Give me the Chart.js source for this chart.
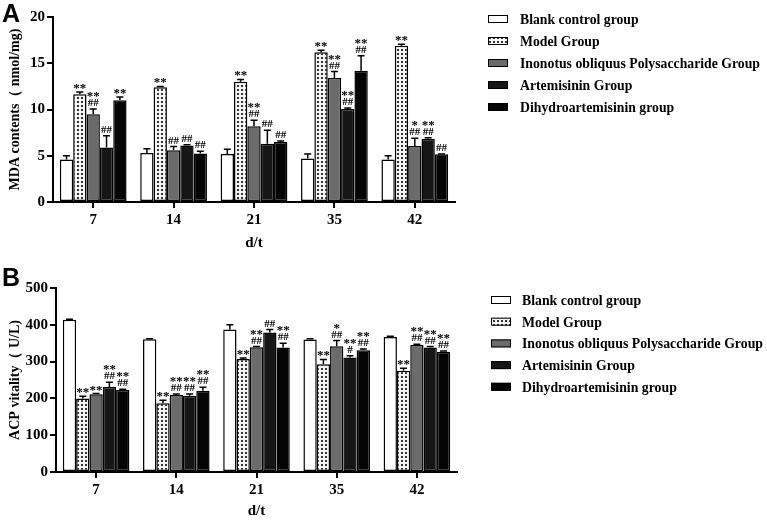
<!DOCTYPE html>
<html>
<head>
  <script src="https://cdnjs.cloudflare.com/ajax/libs/Chart.js/4.4.0/chart.umd.min.js"></script>
  <title>MDA and ACP</title>
  <style>
    body { margin: 0; background: #fff; }
    canvas { position: absolute; left: 0; }
    #chartA { top: 0; }
    #chartB { top: 255px; }
  </style>
</head>
<body>
  <canvas id="chartA" width="767" height="255"></canvas>
  <canvas id="chartB" width="767" height="265"></canvas>

  <script>
    // days on the x axis
    const days = ["7", "14", "21", "35", "42"];
    const groupNames = [
      "Blank control group",
      "Model Group",
      "Inonotus obliquus Polysaccharide Group",
      "Artemisinin Group",
      "Dihydroartemisinin group"
    ];

    // panel A: MDA contents (nmol/mg), mean and SD
    const mdaBlank = [4.6, 5.3, 5.2, 4.7, 4.6];
    const mdaModel = [11.65, 12.4, 13.0, 16.2, 16.9];
    const mdaIop = [9.5, 5.6, 8.2, 13.4, 6.05];
    const mdaArt = [5.9, 6.1, 6.3, 10.05, 6.85];
    const mdaDha = [11.0, 5.25, 6.5, 14.2, 5.15];
    const mdaBlankSd = [0.4, 0.45, 0.5, 0.5, 0.4];
    const mdaModelSd = [0.25, 0.1, 0.25, 0.2, 0.15];
    const mdaIopSd = [0.55, 0.4, 0.65, 0.7, 0.85];
    const mdaArtSd = [1.25, 0.1, 1.45, 0.1, 0.1];
    const mdaDhaSd = [0.35, 0.25, 0.1, 1.6, 0.05];
    const mdaBlankSig = ["", "", "", "", ""];
    const mdaModelSig = ["**", "**", "**", "**", "**"];
    const mdaIopSig = ["**\n##", "##", "**\n##", "**\n##", "*\n##"];
    const mdaArtSig = ["##", "##", "##", "**\n##", "**\n##"];
    const mdaDhaSig = ["**", "##", "##", "**\n##", "##"];
    const mdaTicks = [0, 5, 10, 15, 20];

    // panel B: ACP vitality (U/L), mean and SD
    const acpBlank = [414, 361, 387, 360, 367];
    const acpModel = [200, 187, 307, 293, 275];
    const acpIop = [211, 209, 339, 342, 345];
    const acpArt = [231, 207, 379, 311, 338];
    const acpDha = [223, 221, 338, 331, 327];
    const acpBlankSd = [1, 1, 13, 2, 2];
    const acpModelSd = [6, 8, 3, 13, 7];
    const acpIopSd = [2, 3, 2, 15, 2];
    const acpArtSd = [13, 5, 8, 5, 3];
    const acpDhaSd = [2, 9, 12, 3, 2];
    const acpBlankSig = ["", "", "", "", ""];
    const acpModelSig = ["**", "**", "**", "**", "**"];
    const acpIopSig = ["**", "**\n##", "**\n##", "*\n##", "**\n##"];
    const acpArtSig = ["**\n##", "**\n##", "##", "**\n#", "**\n##"];
    const acpDhaSig = ["**\n##", "**\n##", "**\n##", "**\n##", "**\n##"];
    const acpTicks = [0, 100, 200, 300, 400, 500];

    const serif = "'Liberation Serif', 'Times New Roman', serif";

    // dotted fill for the model group
    function dotPattern() {
      const c = document.createElement("canvas");
      c.width = 4;
      c.height = 4;
      const g = c.getContext("2d");
      g.fillStyle = "#f4f4f4";
      g.fillRect(0, 0, 4, 4);
      g.fillStyle = "#333";
      g.fillRect(1, 1, 2, 2);
      return g.createPattern(c, "repeat");
    }
    const dots = dotPattern();
    const fills = ["#ffffff", dots, "#6b6b6b", "#161616", "#050505"];

    // error caps and significance marks above each bar
    const errorPlugin = {
      id: "errorMarks",
      afterDatasetsDraw(chart) {
        const ctx = chart.ctx;
        const y = chart.scales.y;
        ctx.save();
        chart.data.datasets.forEach((ds, i) => {
          const meta = chart.getDatasetMeta(i);
          meta.data.forEach((bar, j) => {
            const top = y.getPixelForValue(ds.data[j] + ds.sd[j]);
            ctx.strokeStyle = "#000";
            ctx.lineWidth = 1.5;
            ctx.beginPath();
            ctx.moveTo(bar.x, bar.y);
            ctx.lineTo(bar.x, top);
            ctx.moveTo(bar.x - 3.5, top);
            ctx.lineTo(bar.x + 3.5, top);
            ctx.stroke();
            const lines = ds.sig[j] ? ds.sig[j].split("\n") : [];
            ctx.fillStyle = "#000";
            ctx.textAlign = "center";
            ctx.textBaseline = "alphabetic";
            lines.reverse().forEach((t, k) => {
              const star = t.indexOf("*") >= 0;
              ctx.font = "bold " + (star ? 13 : 11) + "px " + serif;
              ctx.fillText(t, bar.x, top - 3 - k * 9 + (star ? 3 : 0));
            });
          });
        });
        ctx.restore();
      }
    };

    // legend on the right and the panel letter
    const sidePlugin = {
      id: "side",
      afterDraw(chart, args, opts) {
        const ctx = chart.ctx;
        ctx.save();
        ctx.font = "bold 15px " + serif;
        const widest = Math.max(...groupNames.map(n => ctx.measureText(n).width));
        const squeeze = Math.min(1, opts.textWidth / widest);
        chart.data.datasets.forEach((ds, i) => {
          const cy = opts.legendY + i * opts.step;
          ctx.fillStyle = ds.backgroundColor;
          ctx.fillRect(opts.boxX, cy - 4, 20, 8);
          ctx.strokeStyle = "#000";
          ctx.lineWidth = 1;
          ctx.strokeRect(opts.boxX + 0.5, cy - 3.5, 19, 7);
          ctx.fillStyle = "#000";
          ctx.textAlign = "left";
          ctx.textBaseline = "middle";
          ctx.save();
          ctx.translate(opts.textX, cy + 1);
          ctx.scale(squeeze, 1);
          ctx.fillText(ds.label, 0, 0);
          ctx.restore();
        });
        ctx.font = "bold 25px 'Liberation Sans', Arial, sans-serif";
        ctx.textBaseline = "top";
        ctx.fillText(opts.letter, 2, opts.letterY);
        ctx.restore();
      }
    };

    function makeChart(id, series, sds, sigs, ticks, yTitle, box) {
      const datasets = series.map((vals, i) => ({
        label: groupNames[i],
        data: vals,
        sd: sds[i],
        sig: sigs[i],
        backgroundColor: fills[i],
        borderColor: "#000",
        borderWidth: 1.5,
        borderSkipped: false,
        categoryPercentage: 0.83,
        barPercentage: 1.0
      }));
      return new Chart(document.getElementById(id), {
        type: "bar",
        data: { labels: days, datasets: datasets },
        plugins: [errorPlugin, sidePlugin],
        options: {
          responsive: false,
          animation: false,
          devicePixelRatio: 1,
          layout: { padding: { left: 0, top: box.top, right: box.right, bottom: 0 } },
          plugins: {
            legend: { display: false },
            tooltip: { enabled: false },
            side: box.side
          },
          scales: {
            x: {
              afterFit: s => { s.height = box.xHeight; },
              grid: { offset: false, drawOnChartArea: false, tickLength: 6, color: "#000", lineWidth: 2 },
              border: { color: "#000", width: 2 },
              ticks: { color: "#000", padding: 3, font: { family: serif, size: 15, weight: "bold" } },
              title: {
                display: true, text: "d/t", color: "#000",
                padding: { top: 0, bottom: box.titlePad },
                font: { family: serif, size: 15, weight: "bold" }
              }
            },
            y: {
              min: ticks[0],
              max: ticks[ticks.length - 1],
              afterFit: s => { s.width = box.yWidth; },
              afterBuildTicks: s => { s.ticks = ticks.map(v => ({ value: v })); },
              grid: { drawOnChartArea: false, tickLength: 6, color: "#000", lineWidth: 2 },
              border: { color: "#000", width: 2 },
              ticks: { color: "#000", padding: 2, font: { family: serif, size: 15, weight: "bold" } },
              title: {
                display: true, text: yTitle, color: "#000",
                padding: { top: 7, bottom: 0 },
                font: { family: serif, size: 14, weight: "bold" }
              }
            }
          }
        }
      });
    }

    makeChart("chartA",
      [mdaBlank, mdaModel, mdaIop, mdaArt, mdaDha],
      [mdaBlankSd, mdaModelSd, mdaIopSd, mdaArtSd, mdaDhaSd],
      [mdaBlankSig, mdaModelSig, mdaIopSig, mdaArtSig, mdaDhaSig],
      mdaTicks, "MDA contents（ nmol/mg)",
      { top: 17, right: 312, yWidth: 53, xHeight: 53, titlePad: 3,
        side: { letter: "A", letterY: 3, boxX: 488, textX: 520, textWidth: 240, legendY: 19, step: 22 } });

    makeChart("chartB",
      [acpBlank, acpModel, acpIop, acpArt, acpDha],
      [acpBlankSd, acpModelSd, acpIopSd, acpArtSd, acpDhaSd],
      [acpBlankSig, acpModelSig, acpIopSig, acpArtSig, acpDhaSig],
      acpTicks, "ACP vitality（ U/L)",
      { top: 33, right: 310, yWidth: 56, xHeight: 48, titlePad: 0,
        side: { letter: "B", letterY: 12, boxX: 491, textX: 522, textWidth: 241, legendY: 45, step: 21.7 } });
  </script>
</body>
</html>
